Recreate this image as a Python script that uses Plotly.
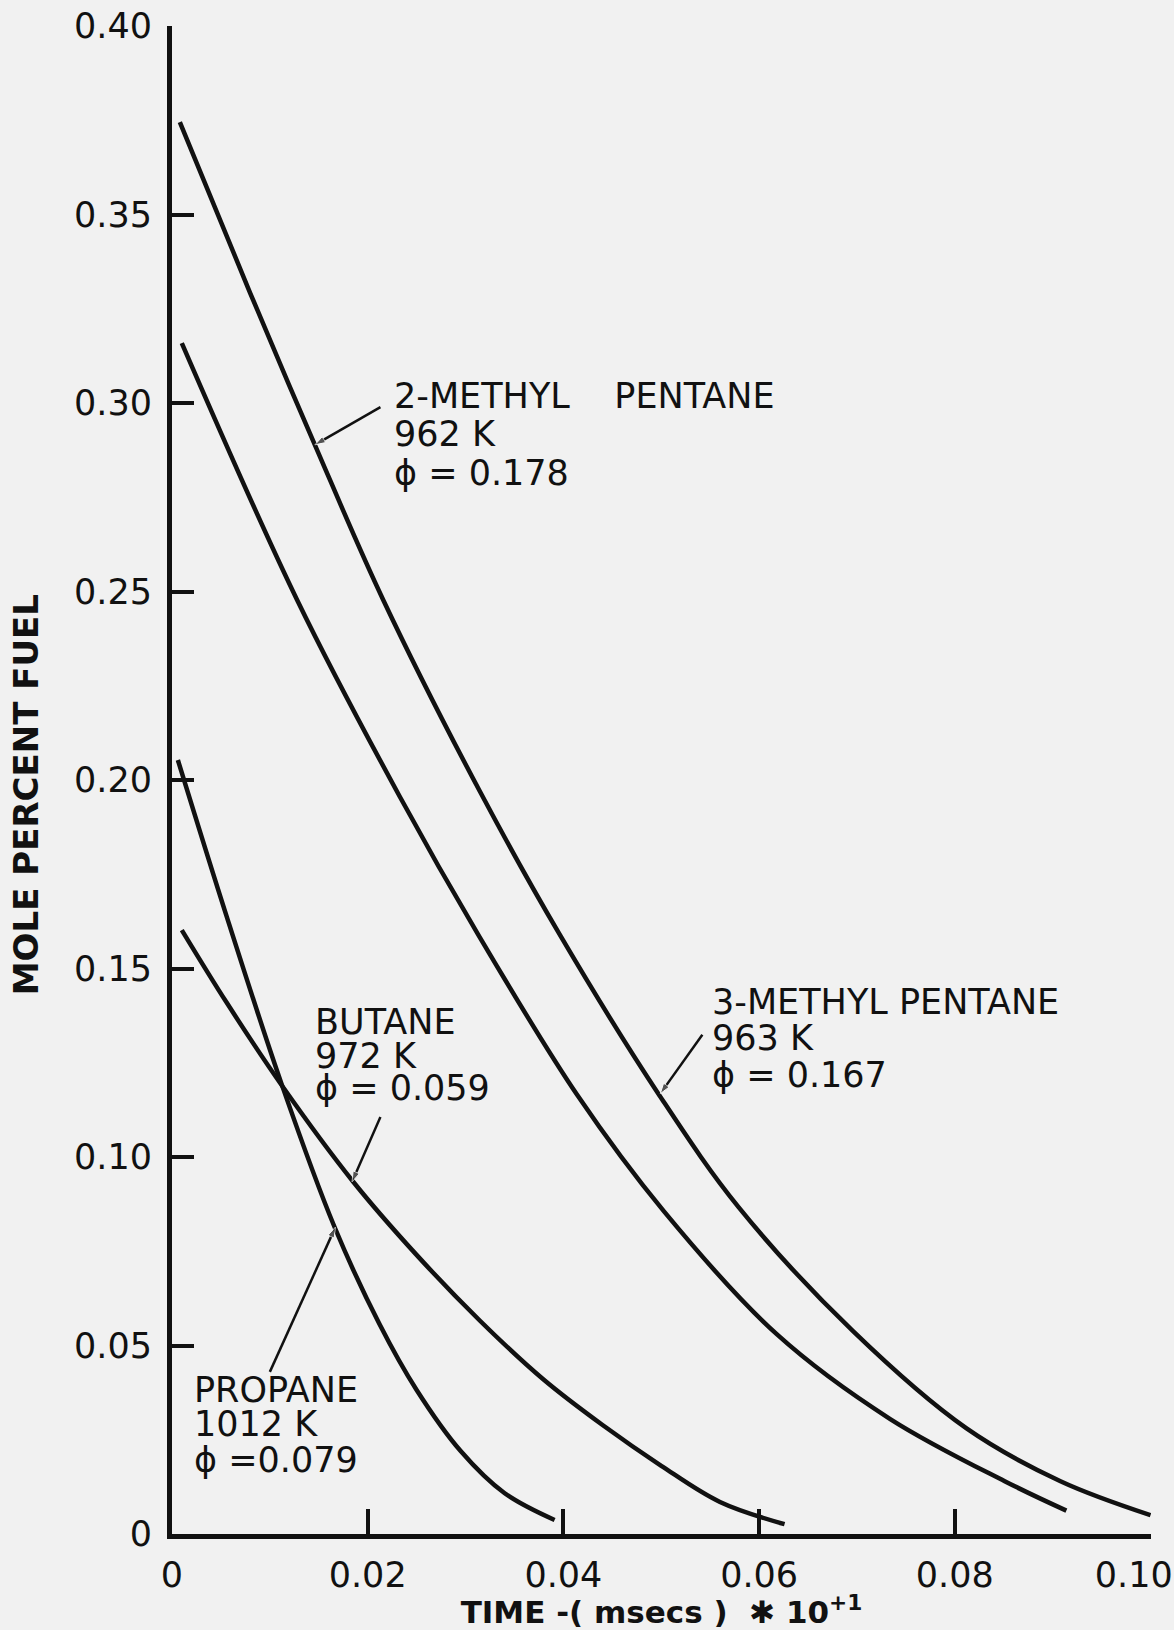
import plotly.graph_objects as go

methyl2_x = [0.0008, 0.0080, 0.0146, 0.0216, 0.0315, 0.0396, 0.0498, 0.0579, 0.0696, 0.0812, 0.0908, 0.1000]
methyl2_y = [0.3745, 0.3291, 0.2889, 0.2477, 0.1968, 0.1591, 0.1164, 0.0867, 0.0538, 0.0280, 0.0140, 0.0050]

methyl3_x = [0.0010, 0.0128, 0.0233, 0.0312, 0.0414, 0.0503, 0.0618, 0.0734, 0.0851, 0.0914]
methyl3_y = [0.3159, 0.2477, 0.1955, 0.1594, 0.1165, 0.0855, 0.0530, 0.0305, 0.0140, 0.0062]

butane_x = [0.0010, 0.0056, 0.0113, 0.0185, 0.0249, 0.0315, 0.0380, 0.0440, 0.0500, 0.0560, 0.0626]
butane_y = [0.1602, 0.1409, 0.1187, 0.0935, 0.0743, 0.0565, 0.0409, 0.0289, 0.0181, 0.0085, 0.0026]

propane_x = [0.0006, 0.0056, 0.0113, 0.0166, 0.0212, 0.0250, 0.0295, 0.0340, 0.0391]
propane_y = [0.2053, 0.1637, 0.1186, 0.0815, 0.0557, 0.0382, 0.0220, 0.0108, 0.0037]

x_ticks = [0, 0.02, 0.04, 0.06, 0.08, 0.10]
x_ticktext = ["0", "0.02", "0.04", "0.06", "0.08", "0.10"]
y_ticks = [0, 0.05, 0.10, 0.15, 0.20, 0.25, 0.30, 0.35, 0.40]
y_ticktext = ["0", "0.05", "0.10", "0.15", "0.20", "0.25", "0.30", "0.35", "0.40"]

labels_2mp = ["2-METHYL\u00a0\u00a0\u00a0\u00a0PENTANE", "962 K", "\u03d5 = 0.178"]
labels_3mp = ["3-METHYL PENTANE", "963 K", "\u03d5 = 0.167"]
labels_butane = ["BUTANE", "972 K", "\u03d5 = 0.059"]
labels_propane = ["PROPANE", "1012 K", "\u03d5 =0.079"]

INK = "#111111"
BG = "#f1f1f1"
LABEL_FONT = dict(family="DejaVu Sans", size=35, color=INK)

fig = go.Figure()

for xs, ys, name in [
    (methyl2_x, methyl2_y, "2-Methyl pentane"),
    (methyl3_x, methyl3_y, "3-Methyl pentane"),
    (butane_x, butane_y, "Butane"),
    (propane_x, propane_y, "Propane"),
]:
    fig.add_trace(go.Scatter(
        x=xs, y=ys, mode="lines", name=name,
        line=dict(color=INK, width=4.5, shape="spline", smoothing=1.0),
        showlegend=False,
    ))

annotations = []


def add_label(lines, x, ys):
    for text, y in zip(lines, ys):
        annotations.append(dict(
            x=x, y=y, xref="x", yref="y", text=text, showarrow=False,
            xanchor="left", yanchor="middle", font=LABEL_FONT,
        ))


def add_leader(tail, head):
    # leader line from label to curve, with a small arrowhead at the curve
    fig.add_trace(go.Scatter(
        x=[tail[0], head[0]], y=[tail[1], head[1]],
        mode="lines+markers", showlegend=False, hoverinfo="skip",
        line=dict(color=INK, width=2.5),
        marker=dict(symbol="arrow", size=[0, 11], color=INK, angleref="previous"),
    ))


add_label(labels_2mp, 0.0225, [0.3019, 0.2918, 0.2814])
add_leader((0.0213, 0.2989), (0.0146, 0.2889))

add_label(labels_3mp, 0.0550, [0.1411, 0.1316, 0.1218])
add_leader((0.0542, 0.1324), (0.0499, 0.1168))

add_label(labels_butane, 0.0144, [0.1358, 0.1268, 0.1183])
add_leader((0.0213, 0.1106), (0.0184, 0.0934))

add_label(labels_propane, 0.0020, [0.0382, 0.0292, 0.0196])
add_leader((0.0100, 0.0430), (0.0167, 0.0814))

# y-axis title, placed like the hand lettering (slightly below plot centre)
annotations.append(dict(
    x=-0.149, y=0.196, xref="paper", yref="y", text="MOLE PERCENT FUEL",
    textangle=-90, showarrow=False, xanchor="center", yanchor="middle",
    font=dict(family="DejaVu Sans", size=34, color=INK, weight="bold"),
))

# last x tick label sits left of its tick so it stays inside the page
tick_text_x = x_ticktext[:-1] + [x_ticktext[-1] + "<span style='color:rgba(0,0,0,0)'>0.</span>"]

axis_common = dict(
    showgrid=False, zeroline=False, showline=True, linecolor=INK, linewidth=5,
    ticks="inside", tickcolor=INK, tickwidth=4, mirror=False, automargin=False,
    ticklabeloverflow="allow",
    tickfont=dict(family="DejaVu Sans", size=35, color=INK),
)

fig.update_layout(
    width=1174, height=1630,
    margin=dict(l=172, r=23, t=26, b=96),
    paper_bgcolor=BG, plot_bgcolor=BG,
    annotations=annotations,
    xaxis=dict(
        range=[0, 0.10005], tickvals=x_ticks, ticktext=tick_text_x, ticklen=25,
        ticklabelstandoff=6,
        title=dict(
            text="TIME -( msecs )  \u2731 10<sup>+1</sup>",
            font=dict(family="DejaVu Sans", size=31, color=INK, weight="bold"),
            standoff=8,
        ),
        **axis_common,
    ),
    yaxis=dict(
        range=[0, 0.40], tickvals=y_ticks, ticktext=y_ticktext, ticklen=22,
        ticklabelstandoff=8,
        **axis_common,
    ),
)

fig.write_html(
    "out.html",
    config={"displayModeBar": False},
    post_script=f"document.body.style.margin='0';document.body.style.background='{BG}';",
)
